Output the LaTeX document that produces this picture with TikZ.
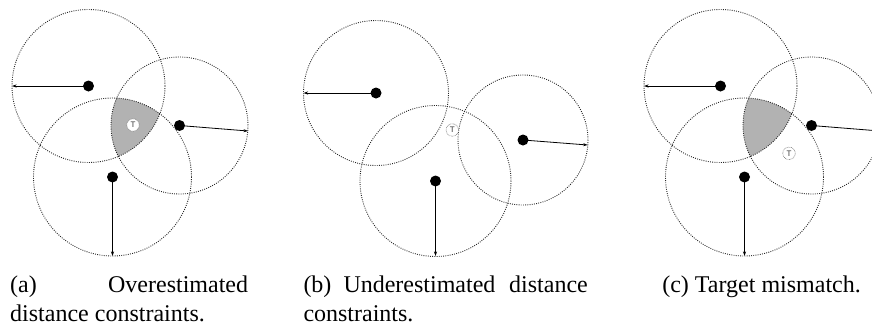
\documentclass[tikz,border=0pt]{standalone}
\usepackage{fontspec}
\setmainfont{Liberation Serif}
\newfontfamily\labelfont{Liberation Sans}
\usetikzlibrary{arrows.meta}
\begin{document}
\begin{tikzpicture}[x=1pt,y=-1pt,
  rangecircle/.style={draw=black!85, line width=0.9pt, dash pattern=on 0.9pt off 1.3pt},
  anchorpt/.style={circle, fill=black, inner sep=0pt, minimum size=11pt},
  radiusarrow/.style={-{Stealth[length=4.5pt,width=3pt]}, line width=0.8pt},
  targetnode/.style={circle, draw=black!55, fill=white, dash pattern=on 0.6pt off 0.8pt, line width=0.6pt, inner sep=0pt, minimum size=12.5pt, font=\labelfont\fontsize{8}{8}\selectfont, text=black!80},
  regionfill/.style={fill=black!30},
  captext/.style={inner sep=0pt, font=\fontsize{24}{30}\selectfont}
]
\clip (0,0) rectangle (872,325);

% ---------- panel (a)
\coordinate (a1) at (88.5,86);
\coordinate (a2) at (179.5,125.5);
\coordinate (a3) at (112.5,177);
\coordinate (a1e) at (12,86);
\coordinate (a2e) at (248,131);
\coordinate (a3e) at (112.5,256);
\begin{scope}
  \clip (a1) circle[radius=76.5];
  \clip (a2) circle[radius=68.5];
  \fill[regionfill] (a3) circle[radius=79];
\end{scope}
\draw[rangecircle] (a1) circle[radius=76.5];
\draw[rangecircle] (a2) circle[radius=68.5];
\draw[rangecircle] (a3) circle[radius=79];
\draw[radiusarrow] (a1) -- (a1e);
\draw[radiusarrow] (a2) -- (a2e);
\draw[radiusarrow] (a3) -- (a3e);
\node[anchorpt] (pa1) at (a1) {};
\node[anchorpt] (pa2) at (a2) {};
\node[anchorpt] (pa3) at (a3) {};
\node[targetnode] (ta) at (133,125) {T};

% ---------- panel (b)
\coordinate (b1) at (376,93);
\coordinate (b2) at (523,140);
\coordinate (b3) at (435.5,181);
\coordinate (b1e) at (303.5,93);
\coordinate (b2e) at (587.7,145);
\coordinate (b3e) at (435.5,256);
\draw[rangecircle] (b1) circle[radius=72.5];
\draw[rangecircle] (b2) circle[radius=65];
\draw[rangecircle] (b3) circle[radius=75.5];
\draw[radiusarrow] (b1) -- (b1e);
\draw[radiusarrow] (b2) -- (b2e);
\draw[radiusarrow] (b3) -- (b3e);
\node[anchorpt] (pb1) at (b1) {};
\node[anchorpt] (pb2) at (b2) {};
\node[anchorpt] (pb3) at (b3) {};
\node[targetnode] (tb) at (452.3,130) {T};

% ---------- panel (c)
\coordinate (c1) at (720.5,86);
\coordinate (c2) at (811.5,125.5);
\coordinate (c3) at (744.5,177);
\coordinate (c1e) at (644,86);
\coordinate (c2e) at (880,131);
\coordinate (c3e) at (744.5,256);
\begin{scope}
  \clip (c1) circle[radius=76.5];
  \clip (c2) circle[radius=68.5];
  \fill[regionfill] (c3) circle[radius=79];
\end{scope}
\draw[rangecircle] (c1) circle[radius=76.5];
\draw[rangecircle] (c2) circle[radius=68.5];
\draw[rangecircle] (c3) circle[radius=79];
\draw[radiusarrow] (c1) -- (c1e);
\draw[radiusarrow] (c2) -- (c2e);
\draw[radiusarrow] (c3) -- (c3e);
\node[anchorpt] (pc1) at (c1) {};
\node[anchorpt] (pc2) at (c2) {};
\node[anchorpt] (pc3) at (c3) {};
\node[targetnode] (tc) at (789,153.3) {T};

% ---------- captions
\node[captext, anchor=base west] (capa1) at (10,292.5) {(a)};
\node[captext, anchor=base east] (capa2) at (248.3,292.5) {Overestimated};
\node[captext, anchor=base west] (capa3) at (10,321.5) {distance constraints.};
\node[captext, anchor=base west] (capb1) at (303.3,292.5) {(b)};
\node[captext, anchor=base west] (capb2) at (343.3,292.5) {Underestimated};
\node[captext, anchor=base east] (capb3) at (588,292.5) {distance};
\node[captext, anchor=base west] (capb4) at (303.3,321.5) {constraints.};
\node[captext, anchor=base east] (capc) at (861,292.5) {(c) Target mismatch.};
\end{tikzpicture}
\end{document}
